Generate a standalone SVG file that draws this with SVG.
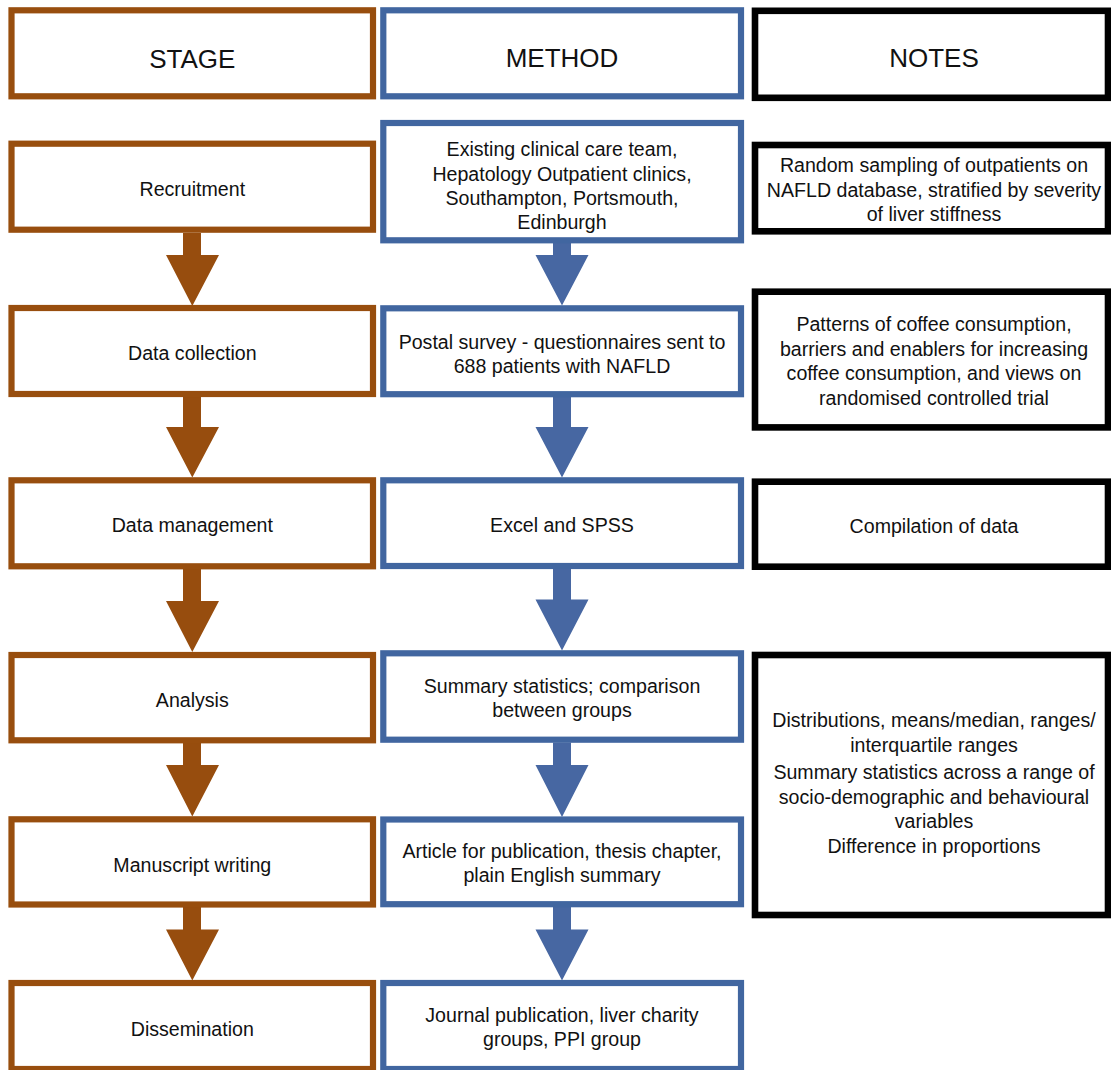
<svg xmlns="http://www.w3.org/2000/svg" width="1111" height="1070" viewBox="0 0 1111 1070">
<style>
.bg{fill:#ffffff}
.st{fill:#ffffff;stroke:#984E0E;stroke-width:6.2}
.me{fill:#ffffff;stroke:#4166A0;stroke-width:6.2}
.no{fill:#ffffff;stroke:#000000;stroke-width:6.6}
.ab{fill:#974D0E}
.aw{fill:#4767A2}
text{font-family:"Liberation Sans",Arial,sans-serif;fill:#111111;text-anchor:middle}
.h{font-size:26px}
.t{font-size:19.6px}
</style>
<rect class="bg" x="0" y="0" width="1111" height="1070"/>
<g id="connectors">
<polygon class="ab" points="183,233 201,233 201,255 219,255 192.3,306 166,255 183,255"/>
<polygon class="ab" points="183,397 201,397 201,427 219,427 192.3,477.5 166,427 183,427"/>
<polygon class="ab" points="183,569 201,569 201,601 219,601 192.3,652 166,601 183,601"/>
<polygon class="ab" points="183,743 201,743 201,765 219,765 192.3,816.5 166,765 183,765"/>
<polygon class="ab" points="183,907 201,907 201,929.5 219,929.5 192.3,980.5 166,929.5 183,929.5"/>
<polygon class="aw" points="553,243 571,243 571,255 588.5,255 562,305.5 535.5,255 553,255"/>
<polygon class="aw" points="553,397 571,397 571,427 588.5,427 562,477.5 535.5,427 553,427"/>
<polygon class="aw" points="553,568 571,568 571,599.5 588.5,599.5 562,650.5 535.5,599.5 553,599.5"/>
<polygon class="aw" points="553,742.5 571,742.5 571,765 588.5,765 562,817 535.5,765 553,765"/>
<polygon class="aw" points="553,907 571,907 571,929.5 588.5,929.5 562,980.5 535.5,929.5 553,929.5"/>
</g>
<g id="stage-header"><rect class="st" x="11.5" y="10.3" width="361.5" height="86"/><text class="h" x="192.3" y="67.5">STAGE</text></g>
<g id="method-header"><rect class="me" x="383.3" y="10.3" width="357.7" height="86"/><text class="h" x="562" y="67">METHOD</text></g>
<g id="notes-header"><rect class="no" x="755" y="10.8" width="353" height="87"/><text class="h" x="934" y="67">NOTES</text></g>

<g id="stage-recruitment"><rect class="st" x="11.5" y="143.7" width="361.5" height="86"/><text class="t" x="192.3" y="196">Recruitment</text></g>
<g id="stage-data-collection"><rect class="st" x="11.5" y="308" width="361.5" height="86"/><text class="t" x="192.3" y="360">Data collection</text></g>
<g id="stage-data-management"><rect class="st" x="11.5" y="480.3" width="361.5" height="86"/><text class="t" x="192.3" y="531.5">Data management</text></g>
<g id="stage-analysis"><rect class="st" x="11.5" y="655" width="361.5" height="85.3"/><text class="t" x="192.3" y="707.3">Analysis</text></g>
<g id="stage-manuscript"><rect class="st" x="11.5" y="819.3" width="361.5" height="85.2"/><text class="t" x="192.3" y="871.5">Manuscript writing</text></g>
<g id="stage-dissemination"><rect class="st" x="11.5" y="983" width="361.5" height="86"/><text class="t" x="192.3" y="1036">Dissemination</text></g>

<g id="method-recruitment"><rect class="me" x="383.3" y="123" width="357.7" height="117.3"/>
<text class="t" x="562" y="156">Existing clinical care team,</text>
<text class="t" x="562" y="180.5">Hepatology Outpatient clinics,</text>
<text class="t" x="562" y="205">Southampton, Portsmouth,</text>
<text class="t" x="562" y="229">Edinburgh</text></g>
<g id="method-data-collection"><rect class="me" x="383.3" y="308.3" width="357.7" height="85.9"/>
<text class="t" x="562" y="348.5">Postal survey - questionnaires sent to</text>
<text class="t" x="562" y="373">688 patients with NAFLD</text></g>
<g id="method-data-management"><rect class="me" x="383.3" y="480.3" width="357.7" height="85.7"/>
<text class="t" x="562" y="531.5">Excel and SPSS</text></g>
<g id="method-analysis"><rect class="me" x="383.3" y="653.3" width="357.7" height="86.4"/>
<text class="t" x="562" y="692.7">Summary statistics; comparison</text>
<text class="t" x="562" y="716.7">between groups</text></g>
<g id="method-manuscript"><rect class="me" x="383.3" y="819.5" width="357.7" height="84.7"/>
<text class="t" x="562" y="858">Article for publication, thesis chapter,</text>
<text class="t" x="562" y="882">plain English summary</text></g>
<g id="method-dissemination"><rect class="me" x="383.3" y="983" width="357.7" height="86"/>
<text class="t" x="562" y="1021.7">Journal publication, liver charity</text>
<text class="t" x="562" y="1045.7">groups, PPI group</text></g>

<g id="notes-recruitment"><rect class="no" x="755" y="145" width="353" height="86.3"/>
<text class="t" x="934" y="172">Random sampling of outpatients on</text>
<text class="t" x="934" y="196.5">NAFLD database, stratified by severity</text>
<text class="t" x="934" y="221">of liver stiffness</text></g>
<g id="notes-data-collection"><rect class="no" x="755" y="291.7" width="353" height="135.7"/>
<text class="t" x="934" y="331">Patterns of coffee consumption,</text>
<text class="t" x="934" y="355.5">barriers and enablers for increasing</text>
<text class="t" x="934" y="380">coffee consumption, and views on</text>
<text class="t" x="934" y="404.5">randomised controlled trial</text></g>
<g id="notes-data-management"><rect class="no" x="755" y="481.7" width="353" height="85"/>
<text class="t" x="934" y="532.7">Compilation of data</text></g>
<g id="notes-analysis"><rect class="no" x="755" y="655" width="353" height="260"/>
<text class="t" x="934" y="727">Distributions, means/median, ranges/</text>
<text class="t" x="934" y="751.5">interquartile ranges</text>
<text class="t" x="934" y="779">Summary statistics across a range of</text>
<text class="t" x="934" y="803.5">socio-demographic and behavioural</text>
<text class="t" x="934" y="828">variables</text>
<text class="t" x="934" y="852.5">Difference in proportions</text></g>
</svg>
